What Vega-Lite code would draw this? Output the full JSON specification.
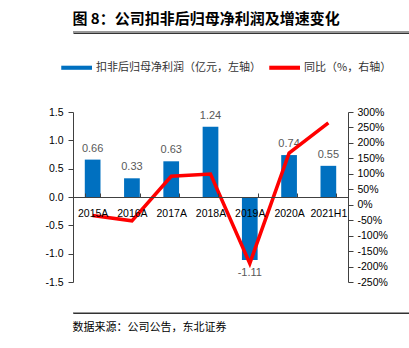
{
  "$schema": "https://vega.github.io/schema/vega-lite/v6.json",
  "padding": {"left": 25, "top": 12, "right": 4, "bottom": 0},
  "background": "white",
  "config": {"view": {"stroke": null}, "font": "Liberation Sans"},
  "datasets": {
    "profit": [
      {"period": "2015A", "v": 0.66, "g": -35},
      {"period": "2016A", "v": 0.33, "g": -52},
      {"period": "2017A", "v": 0.63, "g": 92},
      {"period": "2018A", "v": 1.24, "g": 99},
      {"period": "2019A", "v": -1.11, "g": -190},
      {"period": "2020A", "v": 0.74, "g": 167},
      {"period": "2021H1", "v": 0.55, "g": 265}
    ],
    "one": [{"a": 0, "b": 1, "y": 0}]
  },
  "spacing": 24,
  "align": "none",
  "resolve": {"scale": {"color": "independent"}, "legend": {"color": "independent"}},
  "vconcat": [
    {
      "width": 380,
      "height": 1,
      "title": {"text": "图 8：公司扣非后归母净利润及增速变化", "anchor": "start", "font": "Noto Sans CJK SC", "fontSize": 15, "fontWeight": "bold", "color": "#000", "offset": 4},
      "data": {"name": "one"},
      "mark": {"type": "rule", "color": "#333", "strokeWidth": 1.2},
      "encoding": {
        "x": {"field": "a", "type": "quantitative", "scale": {"domain": [0, 1]}, "axis": {"orient": "bottom", "title": null, "labels": false, "ticks": false, "grid": false, "domain": true, "domainColor": "#333", "domainWidth": 1.2}},
        "x2": {"field": "b"},
        "y": {"field": "y", "type": "quantitative", "scale": {"domain": [-1, 0]}, "axis": null}
      }
    },
    {
      "width": 275,
      "height": 170,
      "data": {"name": "profit"},
      "encoding": {
        "x": {
          "field": "period", "type": "nominal", "sort": null,
          "scale": {"paddingInner": 0.6, "paddingOuter": 0.3},
          "axis": {"title": null, "orient": "bottom", "offset": -85, "labelAngle": 0, "tickBand": "extent", "tickSize": -4, "labelPadding": 15, "domainColor": "#404040", "tickColor": "#404040", "labelColor": "#000", "labelFontSize": 10.5, "zindex": 1}
        }
      },
      "layer": [
        {
          "mark": {"type": "bar"},
          "encoding": {
            "y": {"field": "v", "type": "quantitative", "scale": {"domain": [-1.5, 1.5]},
              "axis": {"title": null, "values": [-1.5, -1, -0.5, 0, 0.5, 1, 1.5], "labelExpr": "replace(format(datum.value,'.1f'),'−','-')", "grid": false, "tickSize": 5, "labelPadding": 5, "minExtent": 48, "domainColor": "#404040", "tickColor": "#404040", "labelColor": "#000", "labelFontSize": 10.5}},
            "color": {
              "datum": "扣非后归母净利润（亿元，左轴）",
              "scale": {"domain": ["扣非后归母净利润（亿元，左轴）", "同比（%，右轴）"], "range": ["#0070C0", "#FF0000"]},
              "legend": {"title": null, "orient": "none", "legendX": -12, "legendY": -55, "direction": "horizontal", "labelFont": "Noto Sans CJK SC", "labelFontSize": 11, "labelColor": "#333", "labelLimit": 0, "symbolType": "M-1,-0.2H2V0.2H-1Z", "symbolSize": 420, "symbolStrokeWidth": 0, "labelOffset": 14, "columnPadding": 8}
            }
          }
        },
        {
          "transform": [{"filter": "datum.v >= 0"}],
          "mark": {"type": "text", "baseline": "bottom", "dy": -6, "fontSize": 11, "color": "#595959"},
          "encoding": {
            "y": {"field": "v", "type": "quantitative", "scale": {"domain": [-1.5, 1.5]}, "axis": null},
            "text": {"field": "v", "type": "nominal"}
          }
        },
        {
          "transform": [{"filter": "datum.v < 0"}],
          "mark": {"type": "text", "baseline": "top", "dy": 7, "fontSize": 11, "color": "#595959"},
          "encoding": {
            "y": {"field": "v", "type": "quantitative", "scale": {"domain": [-1.5, 1.5]}, "axis": null},
            "text": {"field": "v", "type": "nominal"}
          }
        },
        {
          "mark": {"type": "line", "strokeWidth": 3.5},
          "encoding": {
            "y": {"field": "g", "type": "quantitative", "scale": {"domain": [-250, 300]},
              "axis": {"title": null, "orient": "right", "values": [-250, -200, -150, -100, -50, 0, 50, 100, 150, 200, 250, 300], "labelExpr": "datum.value + '%'", "grid": false, "tickSize": 5, "labelPadding": 4, "domainColor": "#404040", "tickColor": "#404040", "labelColor": "#000", "labelFontSize": 10.5}},
            "color": {"datum": "同比（%，右轴）"}
          }
        }
      ],
      "resolve": {"scale": {"y": "independent"}}
    },
    {
      "width": 380,
      "height": 1,
      "title": {"text": "数据来源：公司公告，东北证券", "orient": "bottom", "anchor": "start", "font": "Noto Sans CJK SC", "fontSize": 11, "fontWeight": "normal", "color": "#000", "offset": 8},
      "data": {"name": "one"},
      "mark": {"type": "rule", "color": "#333", "strokeWidth": 1.2},
      "encoding": {
        "x": {"field": "a", "type": "quantitative", "scale": {"domain": [0, 1]}, "axis": {"orient": "top", "title": null, "labels": false, "ticks": false, "grid": false, "domain": true, "domainColor": "#333", "domainWidth": 1.2}},
        "x2": {"field": "b"},
        "y": {"field": "y", "type": "quantitative", "scale": {"domain": [-1, 0]}, "axis": null}
      }
    }
  ]
}
